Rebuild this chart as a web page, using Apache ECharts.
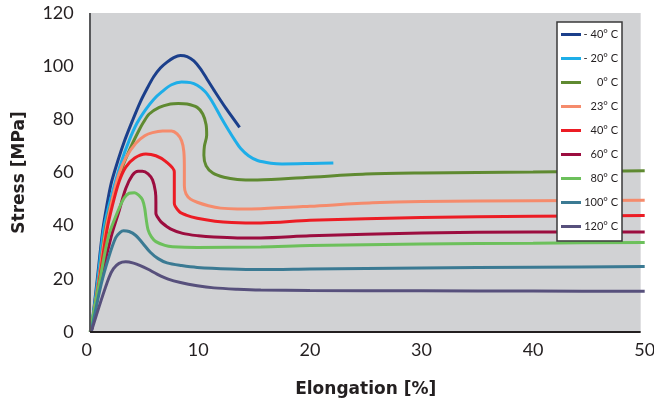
<!DOCTYPE html>
<html><head><meta charset="utf-8">
<script src="https://cdn.jsdelivr.net/npm/echarts@6/dist/echarts.min.js"></script>
<style>html,body{margin:0;padding:0;background:#fff}#c{width:654px;height:405px}</style>
</head><body><div id="c"></div>
<script>
var seriesNames = ['- 40° C','- 20° C','0° C','23° C','40° C','60° C','80° C','100° C','120° C'];
var seriesColors = ['#1b3f8b','#1eaee8','#5f8a31','#f58b6c','#ec1c24','#9c0d3f','#6cc05b','#3b7a93','#57507c'];
var xTicks = [0,10,20,30,40,50];
var yTicks = [0,20,40,60,80,100,120];
var plotExtentX = [0.3, 49.64];

var s_m40 = [[0.4,0],[0.95,20],[1.43,38],[1.8,47.5],[2.2,56],[2.8,64.5],[3.4,72],[4.1,79.5],[4.8,86.5],[5.4,91.5],[6.0,96],[6.6,99.3],[7.2,101.5],[7.8,103.2],[8.4,104],[9.0,103.6],[9.6,102],[10.2,99],[10.8,95],[11.4,91],[12.5,84],[13.7,77]];
var s_m20 = [[0.4,0],[1.0,20],[1.5,38],[1.9,46],[2.5,55.5],[3.1,64],[3.8,72],[4.5,78.5],[5.25,83.5],[6.0,87.5],[6.75,90.4],[7.6,93],[8.5,94],[9.3,93.8],[9.9,92.8],[10.6,90.5],[11.2,87],[12,81],[12.7,76],[13.3,72],[13.8,69],[14.5,66.3],[15.3,64.5],[16.5,63.5],[17.5,63.2],[20.2,63.4],[22.1,63.6]];
var s_0 = [[0.4,0],[1.1,20],[1.65,38],[2.3,50],[3.2,62],[4.0,70],[4.7,76],[5.1,79],[5.6,82],[6.5,84.5],[7.5,85.8],[8.2,86],[9.0,85.8],[9.9,84.5],[10.4,82],[10.7,78],[10.75,74],[10.55,70],[10.5,66.5],[10.7,62.5],[11.3,59.8],[12.3,58.2],[13.5,57.4],[15.3,57.2],[19.6,58.1],[25,59.4],[30,59.8],[40,60.2],[50,60.7]];
var s_23 = [[0.4,0],[1.1,20],[1.7,38],[2.3,50],[2.9,59.5],[3.5,65.5],[4.4,71],[5.2,73.8],[5.9,75],[6.8,75.6],[7.6,75.6],[8.1,74.5],[8.5,72],[8.7,68],[8.75,62],[8.75,55],[8.9,52],[9.3,50],[9.9,48.8],[10.9,47.5],[12,46.6],[13.5,46.3],[15.6,46.4],[20,47.3],[25.6,48.6],[30,49.1],[40,49.4],[50,49.6]];
var s_40 = [[0.4,0],[1.15,20],[1.8,38],[2.3,47.5],[2.9,56.5],[3.5,62],[4.3,65.5],[5.3,67],[6.2,66.3],[7.1,64.1],[7.85,60.3],[7.85,55],[7.85,48.4],[8.3,45.3],[8.9,44],[9.9,42.8],[11.5,41.7],[13,41.2],[15.6,41],[20,42],[30,43.1],[40,43.5],[50,43.8]];
var s_60 = [[0.4,0],[1.3,20],[2.2,36],[2.9,45.5],[3.5,54],[4.1,59],[4.6,60.5],[5.0,60.5],[5.5,59.5],[5.9,57.2],[6.15,53],[6.2,49],[6.2,44.7],[6.5,42.3],[6.8,40.9],[7.5,38.8],[8.6,37.1],[10,36.2],[11.4,35.7],[13.5,35.4],[15.6,35.4],[20,36.2],[30,37.2],[40,37.6],[50,37.6]];
var s_80 = [[0.3,0],[1.2,20],[1.95,36],[2.8,45.5],[3.37,50.5],[3.8,52.2],[4.27,52.4],[4.7,51.3],[5.0,49.7],[5.2,46.5],[5.3,43.4],[5.5,38.4],[5.8,35.8],[6.2,34],[7.0,32.6],[7.7,32.1],[9.9,31.8],[15.6,32],[20,32.5],[30,33.1],[40,33.4],[50,33.7]];
var s_100 = [[0.4,0],[1.3,18],[2.0,28.5],[2.6,35.5],[3.0,37.5],[3.3,38.1],[3.8,37.8],[4.4,36.3],[5.0,33.5],[5.7,30],[6.4,27.6],[7.2,26],[8.5,25],[9.9,24.3],[12.9,23.7],[15.6,23.5],[20,23.7],[30,24.1],[40,24.4],[50,24.6]];
var s_120 = [[0.4,0],[1.3,12],[2.0,20.5],[2.4,23.8],[2.9,25.8],[3.5,26.4],[4.2,25.9],[4.8,25],[5.5,23.6],[6.3,21.8],[7.3,19.9],[8.4,18.6],[9.9,17.4],[11.4,16.6],[13.5,16.1],[15.6,15.8],[20,15.6],[30,15.5],[40,15.4],[50,15.3]];
var seriesData = [s_m40,s_m20,s_0,s_23,s_40,s_60,s_80,s_100,s_120];

var FONT = 'Lato, "DejaVu Sans", sans-serif';
var NAMEFONT = '"DejaVu Sans", sans-serif';
var chart = echarts.init(document.getElementById('c'), null, {renderer:'canvas'});
var series = [{
  type:'line', name:'__bg', data:[], z:-1, silent:true,
  markArea:{silent:true, itemStyle:{color:'#d1d2d4'},
    data:[[{xAxis:plotExtentX[0],yAxis:yTicks[0]},{xAxis:plotExtentX[1],yAxis:yTicks[yTicks.length-1]}]]}
}];
seriesNames.forEach(function(n,i){
  series.push({name:n,type:'line',data:seriesData[i],showSymbol:false,symbol:'none',smooth:0.3,
    lineStyle:{color:seriesColors[i],width:3},itemStyle:{color:seriesColors[i]}});
});
series.push({
  type:'line', name:'__axes', data:[], z:3, silent:true,
  markLine:{silent:true, symbol:'none', label:{show:false}, animation:false,
    data:[
      [{xAxis:plotExtentX[0],yAxis:yTicks[0],lineStyle:{color:'#58595b',width:2,type:'solid'}},{xAxis:plotExtentX[0],yAxis:yTicks[yTicks.length-1]}],
      [{xAxis:plotExtentX[0],yAxis:yTicks[0],lineStyle:{color:'#231f20',width:2,type:'solid'}},{xAxis:plotExtentX[1],yAxis:yTicks[0]}]
    ]}
});
chart.setOption({
  animation:false,
  backgroundColor:'#ffffff',
  grid:{left:86.7,right:9.3,top:13,bottom:73,outerBoundsMode:'none',containLabel:false,show:false},
  xAxis:{type:'value',min:xTicks[0],max:xTicks[xTicks.length-1],interval:10,
    name:'Elongation [%]',nameLocation:'middle',nameGap:49,
    nameTextStyle:{fontFamily:NAMEFONT,fontWeight:'bold',fontSize:17,color:'#231f20'},
    axisLine:{show:false},axisTick:{show:false},
    axisLabel:{fontFamily:FONT,fontSize:18,color:'#231f20',margin:9},
    splitLine:{show:true,lineStyle:{color:'#ffffff',width:2}}},
  yAxis:{type:'value',min:yTicks[0],max:yTicks[yTicks.length-1],interval:20,
    name:'Stress [MPa]',nameLocation:'middle',nameGap:59,nameRotate:90,
    nameTextStyle:{fontFamily:NAMEFONT,fontWeight:'bold',fontSize:17,color:'#231f20'},
    axisLine:{show:false},axisTick:{show:false},
    axisLabel:{fontFamily:FONT,fontSize:18,color:'#231f20',margin:13},
    splitLine:{show:true,lineStyle:{color:'#ffffff',width:2}}},
  legend:{show:true,orient:'vertical',left:557,top:22,z:10,
    backgroundColor:'#ffffff',borderColor:'#3a3a3a',borderWidth:1.5,borderRadius:0,
    padding:[7,4,9,4],itemGap:13,itemWidth:20,itemHeight:3,icon:'rect',
    data:seriesNames,
    formatter:function(n){return '{a|'+n+'}';},
    textStyle:{fontFamily:FONT,fontSize:11,color:'#231f20',
      rich:{a:{fontFamily:FONT,fontSize:11,color:'#231f20',width:32,align:'right',height:12}}}},
  series:series
});
</script></body></html>
